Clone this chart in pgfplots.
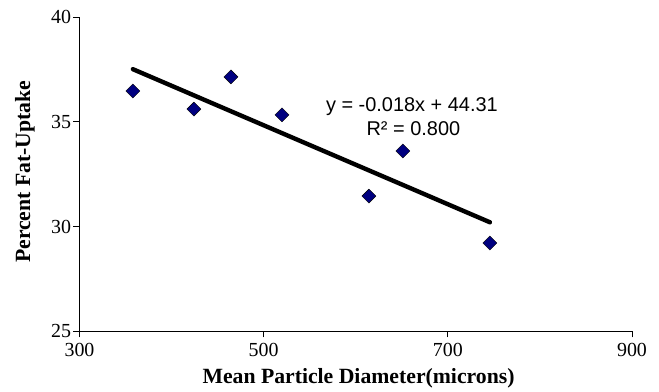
\documentclass[border=0pt]{standalone}
\usepackage{pgfplots}
\pgfplotsset{compat=1.18}
\usepackage{fontspec}
\setmainfont{Liberation Serif}
\newfontfamily\eqfont{Liberation Sans}
\definecolor{navy}{RGB}{0,0,128}
\begin{document}
\begin{tikzpicture}
\begin{axis}[
  name=ax, scale only axis, width=552.5bp, height=314.5bp,
  xmin=300, xmax=900, ymin=25, ymax=40,
  xtick={300,500,700,900}, ytick={25,30,35,40},
  minor tick num=0,
  axis x line=bottom, axis y line=left,
  axis line style={-, line width=0.8bp, black},
  tick align=outside, major tick length=6bp,
  tick style={black, line width=0.8bp},
  /pgf/number format/assume math mode=true,
  ticklabel style={font=\fontsize{20}{24}\selectfont},
  xticklabel style={yshift=-2bp},
  yticklabel style={xshift=1bp},
  xlabel={Mean Particle Diameter(microns)},
  ylabel={Percent Fat-Uptake},
  label style={font=\fontsize{21.8}{26}\selectfont\bfseries},
  xlabel style={at={(axis description cs:0.505,0)}, anchor=base, yshift=-52bp},
  ylabel style={at={(axis description cs:-0.0986,0.508)}, anchor=center, rotate=0},
  clip=false,
]
\addplot[only marks, mark=square*, mark size=4.95bp,
  mark options={rotate=45, fill=navy, draw=none}] coordinates {
  (358,36.47) (424.3,35.61) (464.5,37.14) (519.9,35.33)
  (614.3,31.46) (651.2,33.61) (745.7,29.22)
};
\addplot[black, line width=4.4bp, line cap=round] coordinates {
  (358,37.51) (745.7,30.21)
};
\node[anchor=base, font=\eqfont\fontsize{20}{24}\selectfont] at (axis cs:661.0,35.48) {y = -0.018x + 44.31};
\node[anchor=base, font=\eqfont\fontsize{20}{24}\selectfont] at (axis cs:662.6,34.37) {R² = 0.800};
\end{axis}
\path[use as bounding box] ([xshift=-79.5bp,yshift=-58.5bp]ax.south west) rectangle ([xshift=27bp,yshift=17bp]ax.north east);
\end{tikzpicture}
\end{document}
